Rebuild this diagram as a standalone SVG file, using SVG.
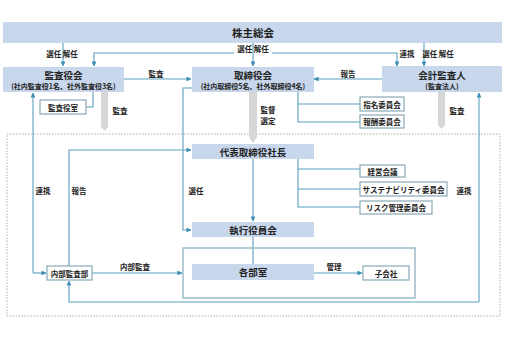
<svg xmlns="http://www.w3.org/2000/svg" width="505" height="337" viewBox="0 0 505 337">
<style>
text{font-family:"Noto Sans CJK JP","Noto Sans",sans-serif;font-weight:bold;fill:#222;text-anchor:middle;dominant-baseline:central}
.b{fill:#c8d7ec}
.w{fill:#fff;stroke:#8aa9b5;stroke-width:1.2}
.ln{fill:none;stroke:#5a9fc0;stroke-width:1.1}
.t1{font-size:10.5px}
.t2{font-size:9.5px}
.t3{font-size:7px}
.lb{font-size:7.5px}
.g{fill:#d6d6d6}
</style>
<defs>
<marker id="ah" viewBox="0 0 6 6" refX="5.5" refY="3" markerWidth="4.5" markerHeight="4.5" orient="auto"><path d="M0,0 L6,3 L0,6 z" fill="#3d8fb5"/></marker>
</defs>
<rect x="7" y="134" width="493" height="182" fill="none" stroke="#999" stroke-width="0.8" stroke-dasharray="1.5,1.5"/>
<g id="connectors">
<path class="ln" d="M63,43 V66" marker-end="url(#ah)"/>
<path class="ln" d="M253,43 V66" marker-end="url(#ah)"/>
<path class="ln" d="M424,43 V66" marker-end="url(#ah)"/>
<path class="ln" d="M234,53 H94 V66" marker-end="url(#ah)"/>
<path class="ln" d="M272,53 H397 V66" marker-end="url(#ah)"/>
<path class="ln" d="M124,79 H191" marker-end="url(#ah)"/>
<path class="ln" d="M382,79 H314" marker-end="url(#ah)"/>
<path class="ln" d="M86,107 H93 V92"/>
<path class="ln" d="M298,92 V122 H360 M298,104 H360"/>
<path class="ln" d="M192,88 H183 V230 H191" marker-end="url(#ah)"/>
<path class="ln" d="M69,266 V150 H191" marker-end="url(#ah)"/>
<path class="ln" d="M33,273 V93" marker-end="url(#ah)"/>
<path class="ln" d="M33,273 H46" marker-end="url(#ah)"/>
<path class="ln" d="M253,159 V221" marker-end="url(#ah)"/>
<path class="ln" d="M298,159 V207 H360 M298,169 H360 M298,189 H360"/>
<path class="ln" d="M92,273 H182" marker-end="url(#ah)"/>
<path class="ln" d="M253,237 V264"/>
<path class="ln" d="M314,273 H362" marker-end="url(#ah)"/>
<rect x="183" y="248" width="232" height="50" fill="none" stroke="#8fb0c0" stroke-width="1.3"/>
<path class="ln" d="M479,302 V93" marker-end="url(#ah)"/>
<path class="ln" d="M479,302 H69 V281" marker-end="url(#ah)"/>
<path class="g" d="M101,92 H108 V127 L104.5,131 L101,127 Z"/>
<path class="g" d="M249,92 H257 V137 L253,143 L249,137 Z"/>
<path class="g" d="M438,92 H445 V125 L441.5,129 L438,125 Z"/>
</g>
<g id="labels">
<text class="lb" x="62" y="53">選任 解任</text>
<text class="lb" x="253" y="48">選任 解任</text>
<text class="lb" x="407" y="53">連携</text>
<text class="lb" x="438" y="53">選任 解任</text>
<text class="lb" x="156" y="73">監査</text>
<text class="lb" x="348" y="73">報告</text>
<text class="lb" x="120" y="110">監査</text>
<text class="lb" x="268" y="109">監督</text>
<text class="lb" x="268" y="120">選定</text>
<text class="lb" x="457" y="110">監査</text>
<text class="lb" x="43" y="190">連携</text>
<text class="lb" x="79" y="190">報告</text>
<text class="lb" x="196" y="190">選任</text>
<text class="lb" x="464" y="190">連携</text>
<text class="lb" x="135" y="266">内部監査</text>
<text class="lb" x="334" y="266">管理</text>
</g>
<g id="n-shareholders"><rect class="b" x="3" y="22" width="499" height="21"/><text class="t1" x="253" y="32.5">株主総会</text></g>
<g id="n-kansayakukai"><rect class="b" x="3" y="67" width="121" height="25"/><text class="t2" x="63.5" y="74.5">監査役会</text><text class="t3" x="63.5" y="85.5">(社内監査役1名、社外監査役3名)</text></g>
<g id="n-torishimariyakukai"><rect class="b" x="192" y="67" width="122" height="25"/><text class="t2" x="253" y="74.5">取締役会</text><text class="t3" x="253" y="85.5">(社内取締役5名、社外取締役4名)</text></g>
<g id="n-kaikei"><rect class="b" x="382" y="66" width="120" height="26"/><text class="t2" x="442" y="75">会計監査人</text><text class="t3" x="442" y="86">(監査法人)</text></g>
<g id="n-kansayakushitsu"><rect class="w" x="40" y="100" width="46" height="14"/><text class="lb" x="63" y="107">監査役室</text></g>
<g id="n-shimei"><rect class="w" x="360" y="97" width="44" height="14"/><text class="lb" x="382" y="104">指名委員会</text></g>
<g id="n-hoshu"><rect class="w" x="360" y="115" width="44" height="13"/><text class="lb" x="382" y="121.5">報酬委員会</text></g>
<g id="n-ceo"><rect class="b" x="192" y="144" width="122" height="15"/><text class="t2" x="253" y="151.5">代表取締役社長</text></g>
<g id="n-keiei"><rect class="w" x="360" y="165" width="45" height="12"/><text class="lb" x="382.5" y="171">経営会議</text></g>
<g id="n-sustain"><rect class="w" x="360" y="182" width="87" height="14"/><text class="lb" x="403.5" y="189">サステナビリティ委員会</text></g>
<g id="n-risk"><rect class="w" x="360" y="201" width="72" height="13"/><text class="lb" x="396" y="207.5">リスク管理委員会</text></g>
<g id="n-shikko"><rect class="b" x="192" y="222" width="122" height="15"/><text class="t2" x="253" y="229.5">執行役員会</text></g>
<g id="n-naibu"><rect class="w" x="47" y="266" width="45" height="14"/><text class="lb" x="69.5" y="273">内部監査部</text></g>
<g id="n-kakubu"><rect class="b" x="192" y="264" width="122" height="16"/><text class="t2" x="253" y="272">各部室</text></g>
<g id="n-kogaisha"><rect class="w" x="363" y="266" width="46" height="14"/><text class="lb" x="386" y="273">子会社</text></g>
</svg>
